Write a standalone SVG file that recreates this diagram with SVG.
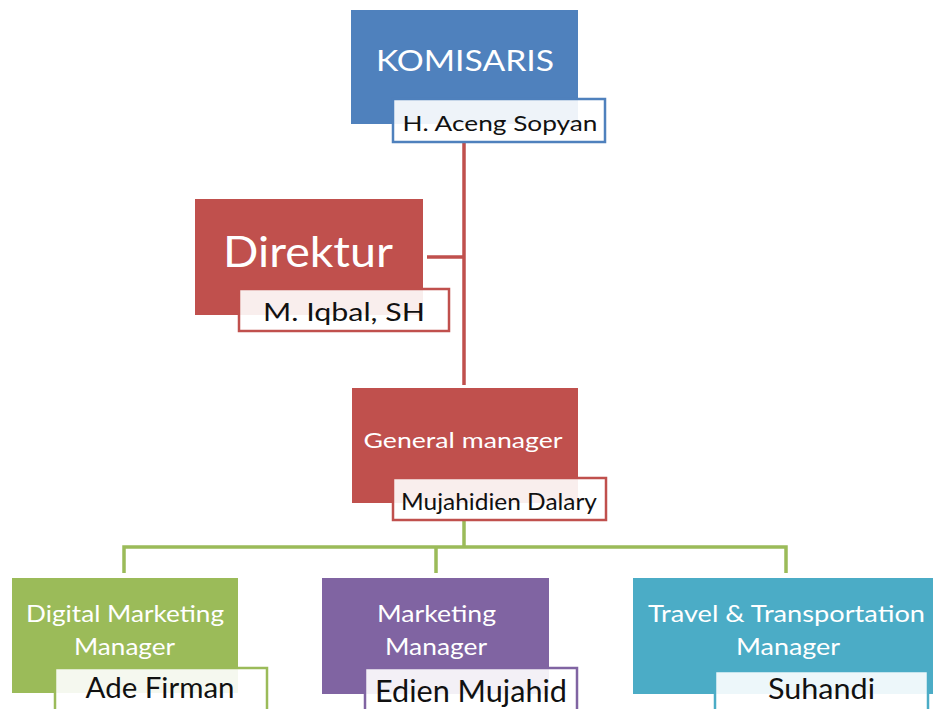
<svg xmlns="http://www.w3.org/2000/svg" width="933" height="709" viewBox="0 0 933 709">
<style>
text{font-family:Lato,"Liberation Sans",sans-serif;text-anchor:middle}
.t{fill:#ffffff}
.n{fill:#111111}
.nb{fill:#ffffff;fill-opacity:0.9;stroke-width:2.5}
.blue{fill:#4F81BD}.red{fill:#C0504D}.green{fill:#9BBB59}.purple{fill:#8064A2}.teal{fill:#4BACC6}
.sblue{stroke:#4F81BD}.sred{stroke:#C0504D}.sgreen{stroke:#9BBB59}.spurple{stroke:#8064A2}.steal{stroke:#4BACC6}
.c{fill:none;stroke-width:3.5}
</style>
<rect width="933" height="709" fill="#ffffff"/>
<g id="connectors">
<path class="c sred" d="M464 142 V385 M427 257 H464"/>
<path class="c sgreen" d="M464 520 V547 M124 573 V547 H786 V573 M436 547 V573"/>
</g>
<g id="komisaris">
<rect class="blue" x="351" y="10" width="227" height="114"/>
<text class="t" x="465" y="71" font-size="28" textLength="178" lengthAdjust="spacingAndGlyphs">KOMISARIS</text>
<rect class="nb sblue" x="393" y="99" width="212" height="43"/>
<text class="n" x="500" y="130.5" font-size="22" textLength="195" lengthAdjust="spacingAndGlyphs">H. Aceng Sopyan</text>
</g>
<g id="direktur">
<rect class="red" x="195" y="199" width="228" height="116"/>
<text class="t" x="308" y="267" font-size="42" textLength="170" lengthAdjust="spacingAndGlyphs">Direktur</text>
<rect class="nb sred" x="239" y="289" width="210" height="42"/>
<text class="n" x="344" y="321" font-size="25" textLength="162" lengthAdjust="spacingAndGlyphs">M. Iqbal, SH</text>
</g>
<g id="general-manager">
<rect class="red" x="352" y="388" width="226" height="115"/>
<text class="t" x="463" y="448" font-size="22" textLength="199" lengthAdjust="spacingAndGlyphs">General manager</text>
<rect class="nb sred" x="393" y="478" width="213" height="42"/>
<text class="n" x="499" y="510" font-size="23" textLength="196" lengthAdjust="spacingAndGlyphs">Mujahidien Dalary</text>
</g>
<g id="digital-marketing">
<rect class="green" x="12" y="578" width="226" height="115"/>
<text class="t" x="125" y="622" font-size="24" textLength="198" lengthAdjust="spacingAndGlyphs">Digital Marketing</text>
<text class="t" x="124.5" y="655" font-size="24" textLength="101" lengthAdjust="spacingAndGlyphs">Manager</text>
<rect class="nb sgreen" x="55" y="668" width="212" height="43"/>
<text class="n" x="160" y="698" font-size="29" textLength="149" lengthAdjust="spacingAndGlyphs">Ade Firman</text>
</g>
<g id="marketing">
<rect class="purple" x="322" y="578" width="227" height="116"/>
<text class="t" x="436.5" y="622" font-size="24" textLength="119" lengthAdjust="spacingAndGlyphs">Marketing</text>
<text class="t" x="436" y="655" font-size="24" textLength="102" lengthAdjust="spacingAndGlyphs">Manager</text>
<rect class="nb spurple" x="365" y="668" width="212" height="43"/>
<text class="n" x="471" y="702" font-size="30" textLength="192" lengthAdjust="spacingAndGlyphs">Edien Mujahid</text>
</g>
<g id="travel">
<rect class="teal" x="633" y="578" width="310" height="116"/>
<text class="t" x="786.5" y="622" font-size="24" textLength="277" lengthAdjust="spacingAndGlyphs">Travel &amp; Transportation</text>
<text class="t" x="788" y="655" font-size="24" textLength="104" lengthAdjust="spacingAndGlyphs">Manager</text>
<rect class="nb steal" x="715" y="671" width="213" height="42"/>
<text class="n" x="821.5" y="699" font-size="28" textLength="107" lengthAdjust="spacingAndGlyphs">Suhandi</text>
</g>
</svg>
